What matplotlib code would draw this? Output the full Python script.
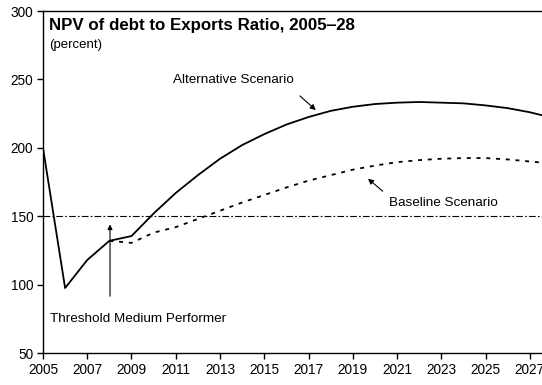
import matplotlib.pyplot as plt

plt.rcParams['font.family'] = ['Liberation Sans', 'DejaVu Sans']

years = list(range(2005, 2029))
alternative = [200, 97.5, 118, 132, 135.5, 152, 167, 180, 192, 202, 210, 217,
               222.5, 227, 230, 232, 233, 233.5, 233, 232.5, 231, 229, 226, 222]
baseline_years = list(range(2008, 2029))
baseline = [132, 130.5, 138, 142, 148, 154, 160, 165.5, 171, 176, 180, 184,
            187, 189.5, 191, 192, 192.5, 192.5, 191.5, 190, 188.5]
threshold = 150

fig = plt.figure(figsize=(5.42, 3.85), dpi=100)
ax = fig.add_axes([0.0793, 0.0831, 0.9207, 0.8883])

ax.plot(years, alternative, color='black', lw=1.3, zorder=3)
ax.plot(baseline_years, baseline, color='black', lw=1.3, ls=(0, (2.2, 3.2)), zorder=2)
ax.axhline(threshold, color='black', lw=0.8, ls=(0, (6, 2, 1.5, 2)), zorder=1)

ax.set_xlim(2005, 2027.55)
ax.set_ylim(50, 300)
ax.set_xticks(range(2005, 2028, 2))
ax.set_yticks(range(50, 301, 50))
ax.tick_params(direction='out', length=4, width=1, labelsize=9.8, pad=3)
ax.spines['right'].set_visible(False)
for s in ['left', 'bottom', 'top']:
    ax.spines[s].set_linewidth(1)

ax.text(0.013, 0.981, 'NPV of debt to Exports Ratio, 2005\u201228', transform=ax.transAxes,
        fontsize=12.2, fontweight='bold', va='top', ha='left')
ax.text(0.013, 0.918, '(percent)', transform=ax.transAxes, fontsize=9.5, va='top', ha='left')

ax.annotate('', xy=(2017.42, 226.2), xytext=(2016.52, 239.3),
            arrowprops=dict(arrowstyle='-|>', color='black', lw=0.8, mutation_scale=8))
ax.text(2010.87, 249.6, 'Alternative Scenario', fontsize=9.7, va='center', ha='left')

ax.annotate('', xy=(2019.59, 178.7), xytext=(2020.45, 167),
            arrowprops=dict(arrowstyle='-|>', color='black', lw=0.8, mutation_scale=8))
ax.text(2020.63, 159.6, 'Baseline Scenario', fontsize=9.7, va='center', ha='left')

ax.annotate('', xy=(2008.03, 146), xytext=(2008.03, 89.5),
            arrowprops=dict(arrowstyle='-|>', color='black', lw=0.8, mutation_scale=7))
ax.text(2005.32, 74.9, 'Threshold Medium Performer', fontsize=9.7, va='center', ha='left')

fig.savefig('out.png', dpi=100)
